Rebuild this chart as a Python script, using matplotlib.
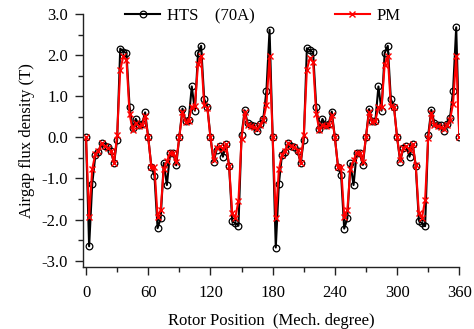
import numpy as np
import matplotlib
matplotlib.use('Agg')
import matplotlib.pyplot as plt
from matplotlib.ticker import MultipleLocator, FormatStrFormatter

# rotor position, sampled every 3 mech. degrees
angle = np.arange(0, 361, 3)

hts = [
    0.00, -2.65, -1.13, -0.44, -0.35, -0.14, -0.22, -0.24, -0.33, -0.63,
    -0.06, 2.16, 2.09, 2.05, 0.75, 0.22, 0.45, 0.30, 0.32, 0.61,
    0.00, -0.71, -0.93, -2.21, -1.97, -0.62, -1.16, -0.39, -0.37, -0.68,
    0.02, 0.70, 0.40, 0.42, 1.24, 0.65, 2.05, 2.23, 0.93, 0.75,
    0.02, -0.60, -0.30, -0.22, -0.47, -0.16, -0.70, -2.04, -2.09, -2.15,
    0.06, 0.66, 0.34, 0.29, 0.28, 0.15, 0.32, 0.46, 1.14, 2.62,
    0.02, -2.68, -1.13, -0.42, -0.35, -0.13, -0.22, -0.24, -0.32, -0.63,
    -0.06, 2.17, 2.12, 2.07, 0.75, 0.20, 0.45, 0.30, 0.33, 0.63,
    0.00, -0.71, -0.91, -2.22, -1.97, -0.63, -1.16, -0.39, -0.39, -0.67,
    0.02, 0.69, 0.39, 0.39, 1.24, 0.65, 2.05, 2.23, 0.93, 0.75,
    0.00, -0.59, -0.26, -0.22, -0.47, -0.16, -0.70, -2.03, -2.09, -2.16,
    0.06, 0.67, 0.35, 0.31, 0.29, 0.16, 0.33, 0.47, 1.14, 2.68,
    0.02,
]

pm = [
    0.00, -1.93, -0.77, -0.40, -0.33, -0.14, -0.22, -0.25, -0.32, -0.62,
    0.05, 1.65, 1.97, 1.89, 0.57, 0.18, 0.35, 0.27, 0.30, 0.53,
    0.00, -0.72, -0.73, -1.93, -1.77, -0.76, -0.58, -0.38, -0.37, -0.60,
    0.02, 0.63, 0.38, 0.40, 0.75, 0.76, 1.78, 1.98, 0.78, 0.72,
    0.00, -0.55, -0.25, -0.22, -0.28, -0.16, -0.70, -1.85, -1.95, -1.55,
    -0.03, 0.61, 0.30, 0.27, 0.26, 0.20, 0.30, 0.43, 0.79, 1.98,
    0.02, -1.96, -0.78, -0.42, -0.32, -0.14, -0.22, -0.24, -0.30, -0.62,
    0.05, 1.65, 1.94, 1.83, 0.58, 0.18, 0.31, 0.27, 0.30, 0.55,
    0.00, -0.71, -0.72, -1.93, -1.77, -0.76, -0.56, -0.37, -0.38, -0.60,
    0.02, 0.62, 0.37, 0.40, 0.74, 0.75, 1.76, 1.98, 0.76, 0.74,
    0.00, -0.55, -0.25, -0.22, -0.30, -0.16, -0.68, -1.85, -1.96, -1.53,
    -0.02, 0.60, 0.30, 0.27, 0.26, 0.20, 0.30, 0.43, 0.82, 1.99,
    0.00,
]

plt.rcParams['font.family'] = ['Liberation Serif', 'DejaVu Serif']
plt.rcParams['axes.unicode_minus'] = False

fig = plt.figure(figsize=(4.74, 3.29), dpi=100)
ax = fig.add_axes([0.176, 0.189, 0.793, 0.768])

ax.plot(angle, hts, color='black', lw=1.5, marker='o', ms=4.8,
        mfc='none', mec='black', mew=0.9, label='HTS    (70A)')
ax.plot(angle, pm, color='#ff0000', lw=1.5, marker='x', ms=4,
        mew=1.0, label='PM')

ax.set_xlim(-2.5, 360)
ax.set_ylim(-3.15, 3.0)
ax.xaxis.set_major_locator(MultipleLocator(60))
ax.xaxis.set_minor_locator(MultipleLocator(30))
ax.yaxis.set_major_locator(MultipleLocator(1.0))
ax.yaxis.set_minor_locator(MultipleLocator(0.5))
ax.yaxis.set_major_formatter(FormatStrFormatter('%.1f'))

for s in ['top', 'right']:
    ax.spines[s].set_visible(False)
for s in ['left', 'bottom']:
    ax.spines[s].set_linewidth(1.0)
    ax.spines[s].set_color('#222222')

ax.tick_params(which='major', direction='out', length=6, width=1,
               labelsize=12, color='#222222')
ax.tick_params(axis='x', which='major', pad=7)
ax.tick_params(axis='y', which='major', pad=5)
ax.tick_params(which='minor', direction='out', length=3.5, width=1,
               color='#222222')

ax.set_xlabel('Rotor Position  (Mech. degree)', fontsize=12, labelpad=9)
ax.set_ylabel('Airgap flux density (T)', fontsize=12, labelpad=5)

ax.legend(loc='center left', bbox_to_anchor=(0.264, 0.951),
          bbox_transform=fig.transFigure, ncol=2, frameon=False,
          fontsize=12, handlelength=2.1, handletextpad=0.42,
          columnspacing=4.8, borderpad=0, borderaxespad=0)

plt.savefig('out.png', dpi=100)
